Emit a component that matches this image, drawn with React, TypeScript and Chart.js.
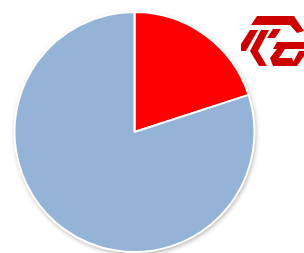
import React, { useEffect, useRef } from "react";
import { Chart, registerables } from "chart.js";

Chart.register(...registerables);

const categories = ["A", "B"];
const values = [20, 80];
const colors = ["#FF0000", "#95B3D7"];

const shadowPlugin = {
  id: "pieShadow",
  beforeDatasetsDraw(chart: any) {
    const meta = chart.getDatasetMeta(0);
    const arc = meta.data[0];
    if (!arc) return;
    const ctx = chart.ctx;
    ctx.save();
    ctx.shadowColor = "rgba(0,0,0,0.35)";
    ctx.shadowBlur = 5;
    ctx.shadowOffsetX = 1;
    ctx.shadowOffsetY = 2;
    ctx.fillStyle = "#ffffff";
    ctx.beginPath();
    ctx.arc(arc.x, arc.y, arc.outerRadius, 0, Math.PI * 2);
    ctx.fill();
    ctx.restore();
  },
};

const logoPolys: number[][][] = [
  [[257, 16], [294, 16], [304, 31], [297, 33], [290, 25], [251, 25]],
  [[250, 30], [258, 30], [246, 51], [241, 51], [241, 44]],
  [[261, 30], [269, 30], [258, 51], [267, 66], [259, 66], [250, 51]],
  [[273, 29], [281, 29], [275, 38], [267, 38]],
  [[277, 42], [304, 42], [304, 49], [273, 49]],
  [[277, 49], [285, 49], [279, 58], [292, 58], [295, 66], [273, 66], [270, 58]],
  [[299, 51], [304, 51], [304, 56], [297, 66], [291, 66]],
];

const logoPlugin = {
  id: "logo",
  afterDraw(chart: any) {
    const ctx = chart.ctx;
    ctx.save();
    ctx.fillStyle = "#CC0000";
    for (const poly of logoPolys) {
      ctx.beginPath();
      poly.forEach(([x, y], i) => (i ? ctx.lineTo(x, y) : ctx.moveTo(x, y)));
      ctx.closePath();
      ctx.fill();
    }
    ctx.restore();
  },
};

export default function App() {
  const ref = useRef<HTMLCanvasElement>(null);
  useEffect(() => {
    if (!ref.current) return;
    const chart = new Chart(ref.current, {
      type: "pie",
      data: {
        labels: categories,
        datasets: [
          {
            data: values,
            backgroundColor: colors,
            borderColor: "#ffffff",
            borderWidth: 2,
          },
        ],
      },
      options: {
        animation: false,
        responsive: false,
        layout: { padding: { left: 13, right: 48, top: 11, bottom: 0 } },
        plugins: { legend: { display: false }, tooltip: { enabled: false } },
      },
      plugins: [shadowPlugin, logoPlugin],
    });
    return () => chart.destroy();
  }, []);
  return (
    <div style={{ position: "fixed", left: 0, top: 0, width: 304, height: 253, background: "#fff" }}>
      <canvas ref={ref} width={304} height={253} style={{ width: 304, height: 253 }} />
    </div>
  );
}
